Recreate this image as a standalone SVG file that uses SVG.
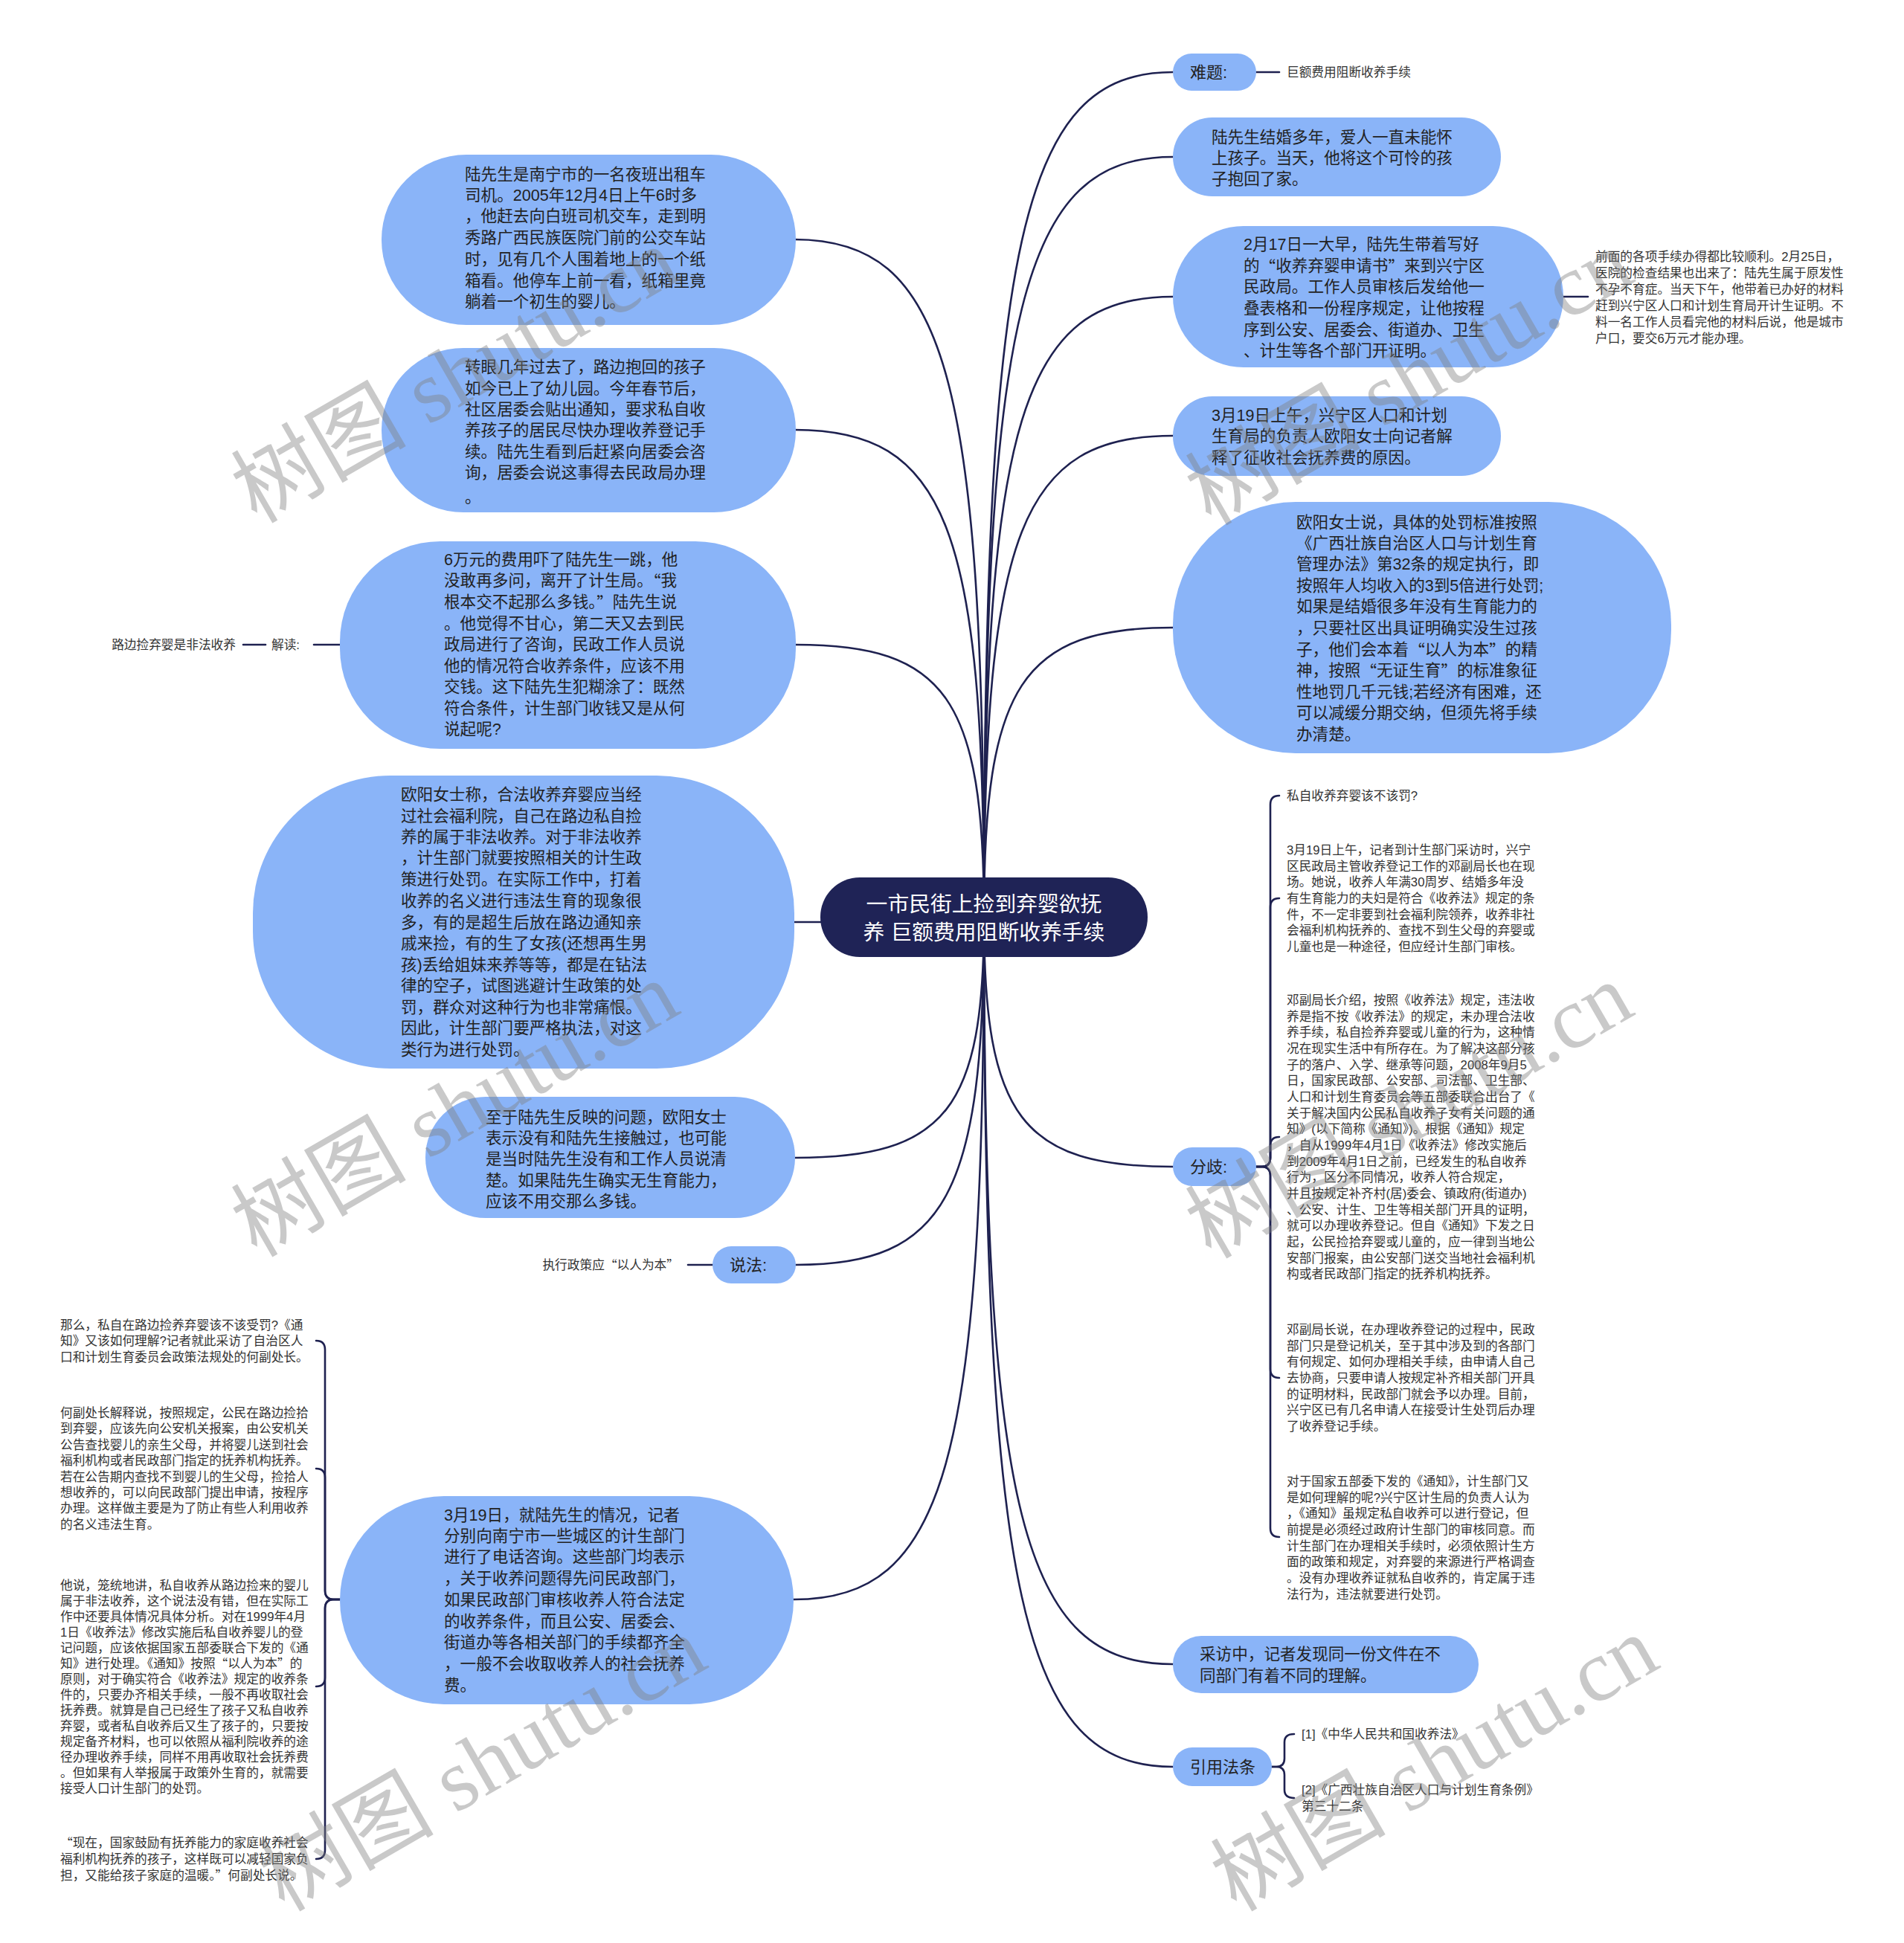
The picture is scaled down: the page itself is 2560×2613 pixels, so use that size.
<svg xmlns="http://www.w3.org/2000/svg" width="2560" height="2613" viewBox="0 0 2560 2613">
<style>
.bub{fill:#8AB4F8}
.ctr{fill:#1f2356}
.ln{fill:none;stroke:#1e2150;stroke-width:2.6;stroke-linecap:round}
text{font-family:"Liberation Sans","Noto Sans CJK SC",sans-serif;dominant-baseline:central}
.q{font-family:"Noto Sans CJK SC",sans-serif}
.bt{font-size:21.6px;fill:#222}
.pt{font-size:22px;fill:#222}
.st{font-size:16.7px;fill:#333}
.ct{font-size:28.8px;fill:#fff;text-anchor:middle}
.wm{font-family:"Liberation Serif","Noto Sans CJK SC",serif;font-size:118px;fill:#808080;opacity:0.42;dominant-baseline:alphabetic}
</style>
<rect width="2560" height="2613" fill="#fff"/>
<g id="connectors">
<path class="ln" d="M1323,1233 C1323,324 1374,97 1577,97"/>
<path class="ln" d="M1323,1233 C1323,415 1374,211 1577,211"/>
<path class="ln" d="M1323,1233 C1323,566 1374,399 1577,399"/>
<path class="ln" d="M1323,1233 C1323,715 1374,586 1577,586"/>
<path class="ln" d="M1323,1233 C1323,922 1374,844 1577,844"/>
<path class="ln" d="M1323,1233 C1323,1502 1374,1569 1577,1569"/>
<path class="ln" d="M1323,1233 C1323,2037 1374,2238 1577,2238"/>
<path class="ln" d="M1323,1233 C1323,2147 1374,2376 1577,2376"/>
<path class="ln" d="M1323,1233 C1323,504 1272,322 1068,322"/>
<path class="ln" d="M1323,1233 C1323,709 1272,578 1068,578"/>
<path class="ln" d="M1323,1233 C1323,940 1272,867 1070,867"/>
<path class="ln" d="M1323,1233 C1323,1239 1272,1240 1068,1240"/>
<path class="ln" d="M1323,1233 C1323,1492 1272,1557 1069,1557"/>
<path class="ln" d="M1323,1233 C1323,1607 1272,1701 1070,1701"/>
<path class="ln" d="M1323,1233 C1323,1968 1272,2151 1067,2151"/>
<path class="ln" d="M1689,97 L1720,97"/>
<path class="ln" d="M2102,399 L2135,399"/>
<path class="ln" d="M457,867 L422,867"/>
<path class="ln" d="M357,867 L327,867"/>
<path class="ln" d="M958,1701 L925,1701"/>
<path class="ln" d="M1689,1569 L1696,1569 Q1708,1569 1708,1557 L1708,1082 Q1708,1070 1720,1070"/>
<path class="ln" d="M1689,1569 L1696,1569 Q1708,1569 1708,1557 L1708,1220 Q1708,1208 1720,1208"/>
<path class="ln" d="M1689,1569 L1696,1569 Q1708,1569 1708,1557 L1708,1541 Q1708,1529 1720,1529"/>
<path class="ln" d="M1689,1569 L1696,1569 Q1708,1569 1708,1581 L1708,1841 Q1708,1853 1720,1853"/>
<path class="ln" d="M1689,1569 L1696,1569 Q1708,1569 1708,1581 L1708,2055 Q1708,2067 1720,2067"/>
<path class="ln" d="M1710,2376 L1716,2376 Q1727,2376 1727,2365 L1727,2343 Q1727,2332 1740,2332"/>
<path class="ln" d="M1710,2376 L1716,2376 Q1727,2376 1727,2387 L1727,2407 Q1727,2418 1740,2418"/>
<path class="ln" d="M457,2151 L449,2151 Q437,2151 437,2139 L437,1815 Q437,1803 425,1803"/>
<path class="ln" d="M457,2151 L449,2151 Q437,2151 437,2139 L437,1987 Q437,1975 425,1975"/>
<path class="ln" d="M457,2151 L449,2151 Q437,2151 437,2163 L437,2256 Q437,2268 425,2268"/>
<path class="ln" d="M457,2151 L449,2151 Q437,2151 437,2163 L437,2488 Q437,2500 425,2500"/>
</g>
<g id="root">
<rect class="ctr" x="1103" y="1180" width="440" height="107" rx="53"/>
<text class="ct"><tspan x="1323" y="1216">一市民街上捡到弃婴欲抚</tspan><tspan x="1323" y="1254">养 巨额费用阻断收养手续</tspan></text>
</g>
<g id="n-nanti">
<rect class="bub" x="1577" y="72" width="112" height="50" rx="25"/>
<text class="pt" x="1600" y="97">难题:</text>
</g>
<g id="n-nanti-leaf"><text class="st" x="1730" y="97">巨额费用阻断收养手续</text></g>
<g id="n-r1">
<rect class="bub" x="1577" y="158" width="441" height="106" rx="53"/>
<text class="bt"><tspan x="1629" y="184">陆先生结婚多年，爱人一直未能怀</tspan><tspan x="1629" y="212">上孩子。当天，他将这个可怜的孩</tspan><tspan x="1629" y="240">子抱回了家。</tspan></text>
</g>
<g id="n-r2">
<rect class="bub" x="1577" y="304" width="525" height="190" rx="95"/>
<text class="bt"><tspan x="1672" y="328">2月17日一大早，陆先生带着写好</tspan><tspan x="1672" y="357">的<tspan class="q">“</tspan>收养弃婴申请书<tspan class="q">”</tspan>来到兴宁区</tspan><tspan x="1672" y="385">民政局。工作人员审核后发给他一</tspan><tspan x="1672" y="414">叠表格和一份程序规定，让他按程</tspan><tspan x="1672" y="443">序到公安、居委会、街道办、卫生</tspan><tspan x="1672" y="471">、计生等各个部门开证明。</tspan></text>
</g>
<g id="n-r2-leaf">
<text class="st"><tspan x="2145" y="345">前面的各项手续办得都比较顺利。2月25日，</tspan><tspan x="2145" y="367">医院的检查结果也出来了：陆先生属于原发性</tspan><tspan x="2145" y="389">不孕不育症。当天下午，他带着已办好的材料</tspan><tspan x="2145" y="411">赶到兴宁区人口和计划生育局开计生证明。不</tspan><tspan x="2145" y="433">料一名工作人员看完他的材料后说，他是城市</tspan><tspan x="2145" y="455">户口，要交6万元才能办理。</tspan></text>
</g>
<g id="n-r3">
<rect class="bub" x="1577" y="533" width="441" height="107" rx="53"/>
<text class="bt"><tspan x="1629" y="558">3月19日上午，兴宁区人口和计划</tspan><tspan x="1629" y="586">生育局的负责人欧阳女士向记者解</tspan><tspan x="1629" y="615">释了征收社会抚养费的原因。</tspan></text>
</g>
<g id="n-r4">
<rect class="bub" x="1577" y="675" width="670" height="338" rx="165"/>
<text class="bt"><tspan x="1743" y="702">欧阳女士说，具体的处罚标准按照</tspan><tspan x="1743" y="730">《广西壮族自治区人口与计划生育</tspan><tspan x="1743" y="758">管理办法》第32条的规定执行，即</tspan><tspan x="1743" y="787">按照年人均收入的3到5倍进行处罚;</tspan><tspan x="1743" y="815">如果是结婚很多年没有生育能力的</tspan><tspan x="1743" y="844">，只要社区出具证明确实没生过孩</tspan><tspan x="1743" y="873">子，他们会本着<tspan class="q">“</tspan>以人为本<tspan class="q">”</tspan>的精</tspan><tspan x="1743" y="901">神，按照<tspan class="q">“</tspan>无证生育<tspan class="q">”</tspan>的标准象征</tspan><tspan x="1743" y="930">性地罚几千元钱;若经济有困难，还</tspan><tspan x="1743" y="958">可以减缓分期交纳，但须先将手续</tspan><tspan x="1743" y="987">办清楚。</tspan></text>
</g>
<g id="n-fenqi">
<rect class="bub" x="1577" y="1543" width="112" height="52" rx="26"/>
<text class="pt" x="1600" y="1569">分歧:</text>
</g>
<g id="n-fenqi-1"><text class="st" x="1730" y="1070">私自收养弃婴该不该罚?</text></g>
<g id="n-fenqi-2">
<text class="st"><tspan x="1730" y="1143">3月19日上午，记者到计生部门采访时，兴宁</tspan><tspan x="1730" y="1164.6">区民政局主管收养登记工作的邓副局长也在现</tspan><tspan x="1730" y="1186.3">场。她说，收养人年满30周岁、结婚多年没</tspan><tspan x="1730" y="1208">有生育能力的夫妇是符合《收养法》规定的条</tspan><tspan x="1730" y="1229.6">件，不一定非要到社会福利院领养，收养非社</tspan><tspan x="1730" y="1251.3">会福利机构抚养的、查找不到生父母的弃婴或</tspan><tspan x="1730" y="1273">儿童也是一种途径，但应经计生部门审核。</tspan></text>
</g>
<g id="n-fenqi-3">
<text class="st"><tspan x="1730" y="1345">邓副局长介绍，按照《收养法》规定，违法收</tspan><tspan x="1730" y="1366.6">养是指不按《收养法》的规定，未办理合法收</tspan><tspan x="1730" y="1388.3">养手续，私自捡养弃婴或儿童的行为，这种情</tspan><tspan x="1730" y="1410">况在现实生活中有所存在。为了解决这部分孩</tspan><tspan x="1730" y="1431.6">子的落户、入学、继承等问题，2008年9月5</tspan><tspan x="1730" y="1453.3">日，国家民政部、公安部、司法部、卫生部、</tspan><tspan x="1730" y="1475">人口和计划生育委员会等五部委联合出台了《</tspan><tspan x="1730" y="1496.6">关于解决国内公民私自收养子女有关问题的通</tspan><tspan x="1730" y="1518.3">知》(以下简称《通知》)。根据《通知》规定</tspan><tspan x="1730" y="1540">，自从1999年4月1日《收养法》修改实施后</tspan><tspan x="1730" y="1561.6">到2009年4月1日之前，已经发生的私自收养</tspan><tspan x="1730" y="1583.3">行为，区分不同情况，收养人符合规定，</tspan><tspan x="1730" y="1605">并且按规定补齐村(居)委会、镇政府(街道办)</tspan><tspan x="1730" y="1626.6">、公安、计生、卫生等相关部门开具的证明，</tspan><tspan x="1730" y="1648.3">就可以办理收养登记。但自《通知》下发之日</tspan><tspan x="1730" y="1670">起，公民捡拾弃婴或儿童的，应一律到当地公</tspan><tspan x="1730" y="1691.6">安部门报案，由公安部门送交当地社会福利机</tspan><tspan x="1730" y="1713.3">构或者民政部门指定的抚养机构抚养。</tspan></text>
</g>
<g id="n-fenqi-4">
<text class="st"><tspan x="1730" y="1788">邓副局长说，在办理收养登记的过程中，民政</tspan><tspan x="1730" y="1809.6">部门只是登记机关，至于其中涉及到的各部门</tspan><tspan x="1730" y="1831.3">有何规定、如何办理相关手续，由申请人自己</tspan><tspan x="1730" y="1853">去协商，只要申请人按规定补齐相关部门开具</tspan><tspan x="1730" y="1874.6">的证明材料，民政部门就会予以办理。目前，</tspan><tspan x="1730" y="1896.3">兴宁区已有几名申请人在接受计生处罚后办理</tspan><tspan x="1730" y="1918">了收养登记手续。</tspan></text>
</g>
<g id="n-fenqi-5">
<text class="st"><tspan x="1730" y="1992">对于国家五部委下发的《通知》，计生部门又</tspan><tspan x="1730" y="2013.6">是如何理解的呢?兴宁区计生局的负责人认为</tspan><tspan x="1730" y="2035.3">，《通知》虽规定私自收养可以进行登记，但</tspan><tspan x="1730" y="2057">前提是必须经过政府计生部门的审核同意。而</tspan><tspan x="1730" y="2078.6">计生部门在办理相关手续时，必须依照计生方</tspan><tspan x="1730" y="2100.3">面的政策和规定，对弃婴的来源进行严格调查</tspan><tspan x="1730" y="2122">。没有办理收养证就私自收养的，肯定属于违</tspan><tspan x="1730" y="2143.6">法行为，违法就要进行处罚。</tspan></text>
</g>
<g id="n-caifang">
<rect class="bub" x="1577" y="2200" width="411" height="77" rx="38"/>
<text class="bt"><tspan x="1613" y="2224">采访中，记者发现同一份文件在不</tspan><tspan x="1613" y="2253">同部门有着不同的理解。</tspan></text>
</g>
<g id="n-yinyong">
<rect class="bub" x="1577" y="2350" width="133" height="52" rx="26"/>
<text class="pt" x="1600" y="2376">引用法条</text>
</g>
<g id="n-yinyong-1"><text class="st" x="1750" y="2332">[1]《中华人民共和国收养法》</text></g>
<g id="n-yinyong-2"><text class="st"><tspan x="1750" y="2407">[2]《广西壮族自治区人口与计划生育条例》</tspan><tspan x="1750" y="2429">第三十二条</tspan></text></g>
<g id="n-l1">
<rect class="bub" x="513" y="208" width="557" height="229" rx="114"/>
<text class="bt"><tspan x="625" y="234">陆先生是南宁市的一名夜班出租车</tspan><tspan x="625" y="262">司机。2005年12月4日上午6时多</tspan><tspan x="625" y="290">，他赶去向白班司机交车，走到明</tspan><tspan x="625" y="319">秀路广西民族医院门前的公交车站</tspan><tspan x="625" y="348">时，见有几个人围着地上的一个纸</tspan><tspan x="625" y="377">箱看。他停车上前一看，纸箱里竟</tspan><tspan x="625" y="405">躺着一个初生的婴儿。</tspan></text>
</g>
<g id="n-l2">
<rect class="bub" x="513" y="468" width="557" height="221" rx="110"/>
<text class="bt"><tspan x="625" y="493">转眼几年过去了，路边抱回的孩子</tspan><tspan x="625" y="522">如今已上了幼儿园。今年春节后，</tspan><tspan x="625" y="550">社区居委会贴出通知，要求私自收</tspan><tspan x="625" y="578">养孩子的居民尽快办理收养登记手</tspan><tspan x="625" y="607">续。陆先生看到后赶紧向居委会咨</tspan><tspan x="625" y="635">询，居委会说这事得去民政局办理</tspan><tspan x="625" y="668">。</tspan></text>
</g>
<g id="n-l3">
<rect class="bub" x="457" y="728" width="613" height="279" rx="135"/>
<text class="bt"><tspan x="597" y="752">6万元的费用吓了陆先生一跳，他</tspan><tspan x="597" y="780">没敢再多问，离开了计生局。<tspan class="q">“</tspan>我</tspan><tspan x="597" y="809">根本交不起那么多钱。<tspan class="q">”</tspan>陆先生说</tspan><tspan x="597" y="838">。他觉得不甘心，第二天又去到民</tspan><tspan x="597" y="866">政局进行了咨询，民政工作人员说</tspan><tspan x="597" y="895">他的情况符合收养条件，应该不用</tspan><tspan x="597" y="923">交钱。这下陆先生犯糊涂了：既然</tspan><tspan x="597" y="952">符合条件，计生部门收钱又是从何</tspan><tspan x="597" y="980">说起呢?</tspan></text>
</g>
<g id="n-jiedu"><text class="st" x="365" y="867">解读:</text></g>
<g id="n-jiedu-leaf"><text class="st" x="317" y="867" text-anchor="end">路边捡弃婴是非法收养</text></g>
<g id="n-l4">
<rect class="bub" x="340" y="1043" width="728" height="394" rx="185"/>
<text class="bt"><tspan x="539" y="1068">欧阳女士称，合法收养弃婴应当经</tspan><tspan x="539" y="1097">过社会福利院，自己在路边私自捡</tspan><tspan x="539" y="1125">养的属于非法收养。对于非法收养</tspan><tspan x="539" y="1153">，计生部门就要按照相关的计生政</tspan><tspan x="539" y="1182">策进行处罚。在实际工作中，打着</tspan><tspan x="539" y="1211">收养的名义进行违法生育的现象很</tspan><tspan x="539" y="1240">多，有的是超生后放在路边通知亲</tspan><tspan x="539" y="1268">戚来捡，有的生了女孩(还想再生男</tspan><tspan x="539" y="1297">孩)丢给姐妹来养等等，都是在钻法</tspan><tspan x="539" y="1325">律的空子，试图逃避计生政策的处</tspan><tspan x="539" y="1354">罚，群众对这种行为也非常痛恨。</tspan><tspan x="539" y="1382">因此，计生部门要严格执法，对这</tspan><tspan x="539" y="1411">类行为进行处罚。</tspan></text>
</g>
<g id="n-l5">
<rect class="bub" x="572" y="1475" width="497" height="163" rx="81"/>
<text class="bt"><tspan x="653" y="1502">至于陆先生反映的问题，欧阳女士</tspan><tspan x="653" y="1530">表示没有和陆先生接触过，也可能</tspan><tspan x="653" y="1558">是当时陆先生没有和工作人员说清</tspan><tspan x="653" y="1587">楚。如果陆先生确实无生育能力，</tspan><tspan x="653" y="1615">应该不用交那么多钱。</tspan></text>
</g>
<g id="n-shuofa">
<rect class="bub" x="958" y="1676" width="112" height="50" rx="25"/>
<text class="pt" x="981" y="1701">说法:</text>
</g>
<g id="n-shuofa-leaf"><text class="st" x="913" y="1701" text-anchor="end">执行政策应<tspan class="q">“</tspan>以人为本<tspan class="q">”</tspan></text></g>
<g id="n-l6">
<rect class="bub" x="457" y="2012" width="610" height="280" rx="140"/>
<text class="bt"><tspan x="597" y="2037">3月19日，就陆先生的情况，记者</tspan><tspan x="597" y="2065">分别向南宁市一些城区的计生部门</tspan><tspan x="597" y="2093">进行了电话咨询。这些部门均表示</tspan><tspan x="597" y="2122">，关于收养问题得先问民政部门，</tspan><tspan x="597" y="2151">如果民政部门审核收养人符合法定</tspan><tspan x="597" y="2180">的收养条件，而且公安、居委会、</tspan><tspan x="597" y="2208">街道办等各相关部门的手续都齐全</tspan><tspan x="597" y="2237">，一般不会收取收养人的社会抚养</tspan><tspan x="597" y="2266">费。</tspan></text>
</g>
<g id="n-l6-1">
<text class="st"><tspan x="81" y="1782">那么，私自在路边捡养弃婴该不该受罚?《通</tspan><tspan x="81" y="1803">知》又该如何理解?记者就此采访了自治区人</tspan><tspan x="81" y="1825">口和计划生育委员会政策法规处的何副处长。</tspan></text>
</g>
<g id="n-l6-2">
<text class="st"><tspan x="81" y="1900">何副处长解释说，按照规定，公民在路边捡拾</tspan><tspan x="81" y="1921.4">到弃婴，应该先向公安机关报案，由公安机关</tspan><tspan x="81" y="1942.8">公告查找婴儿的亲生父母，并将婴儿送到社会</tspan><tspan x="81" y="1964.2">福利机构或者民政部门指定的抚养机构抚养。</tspan><tspan x="81" y="1985.6">若在公告期内查找不到婴儿的生父母，捡拾人</tspan><tspan x="81" y="2007">想收养的，可以向民政部门提出申请，按程序</tspan><tspan x="81" y="2028.4">办理。这样做主要是为了防止有些人利用收养</tspan><tspan x="81" y="2049.8">的名义违法生育。</tspan></text>
</g>
<g id="n-l6-3">
<text class="st"><tspan x="81" y="2132">他说，笼统地讲，私自收养从路边捡来的婴儿</tspan><tspan x="81" y="2153">属于非法收养，这个说法没有错，但在实际工</tspan><tspan x="81" y="2174">作中还要具体情况具体分析。对在1999年4月</tspan><tspan x="81" y="2195">1日《收养法》修改实施后私自收养婴儿的登</tspan><tspan x="81" y="2216">记问题，应该依据国家五部委联合下发的《通</tspan><tspan x="81" y="2237">知》进行处理。《通知》按照<tspan class="q">“</tspan>以人为本<tspan class="q">”</tspan>的</tspan><tspan x="81" y="2258">原则，对于确实符合《收养法》规定的收养条</tspan><tspan x="81" y="2279">件的，只要办齐相关手续，一般不再收取社会</tspan><tspan x="81" y="2300">抚养费。就算是自己已经生了孩子又私自收养</tspan><tspan x="81" y="2321">弃婴，或者私自收养后又生了孩子的，只要按</tspan><tspan x="81" y="2342">规定备齐材料，也可以依照从福利院收养的途</tspan><tspan x="81" y="2363">径办理收养手续，同样不用再收取社会抚养费</tspan><tspan x="81" y="2384">。但如果有人举报属于政策外生育的，就需要</tspan><tspan x="81" y="2405">接受人口计生部门的处罚。</tspan></text>
</g>
<g id="n-l6-4">
<text class="st"><tspan x="81" y="2478"><tspan class="q">“</tspan>现在，国家鼓励有抚养能力的家庭收养社会</tspan><tspan x="81" y="2500">福利机构抚养的孩子，这样既可以减轻国家负</tspan><tspan x="81" y="2522">担，又能给孩子家庭的温暖。<tspan class="q">”</tspan>何副处长说。</tspan></text>
</g>
<g id="watermarks">
<text class="wm" transform="translate(345,705) rotate(-30)">树图 shutu.cn</text>
<text class="wm" transform="translate(345,1692) rotate(-30)">树图 shutu.cn</text>
<text class="wm" transform="translate(1628,708) rotate(-30)">树图 shutu.cn</text>
<text class="wm" transform="translate(1628,1694) rotate(-30)">树图 shutu.cn</text>
<text class="wm" transform="translate(382,2572) rotate(-30)">树图 shutu.cn</text>
<text class="wm" transform="translate(1662,2572) rotate(-30)">树图 shutu.cn</text>
</g>
</svg>
